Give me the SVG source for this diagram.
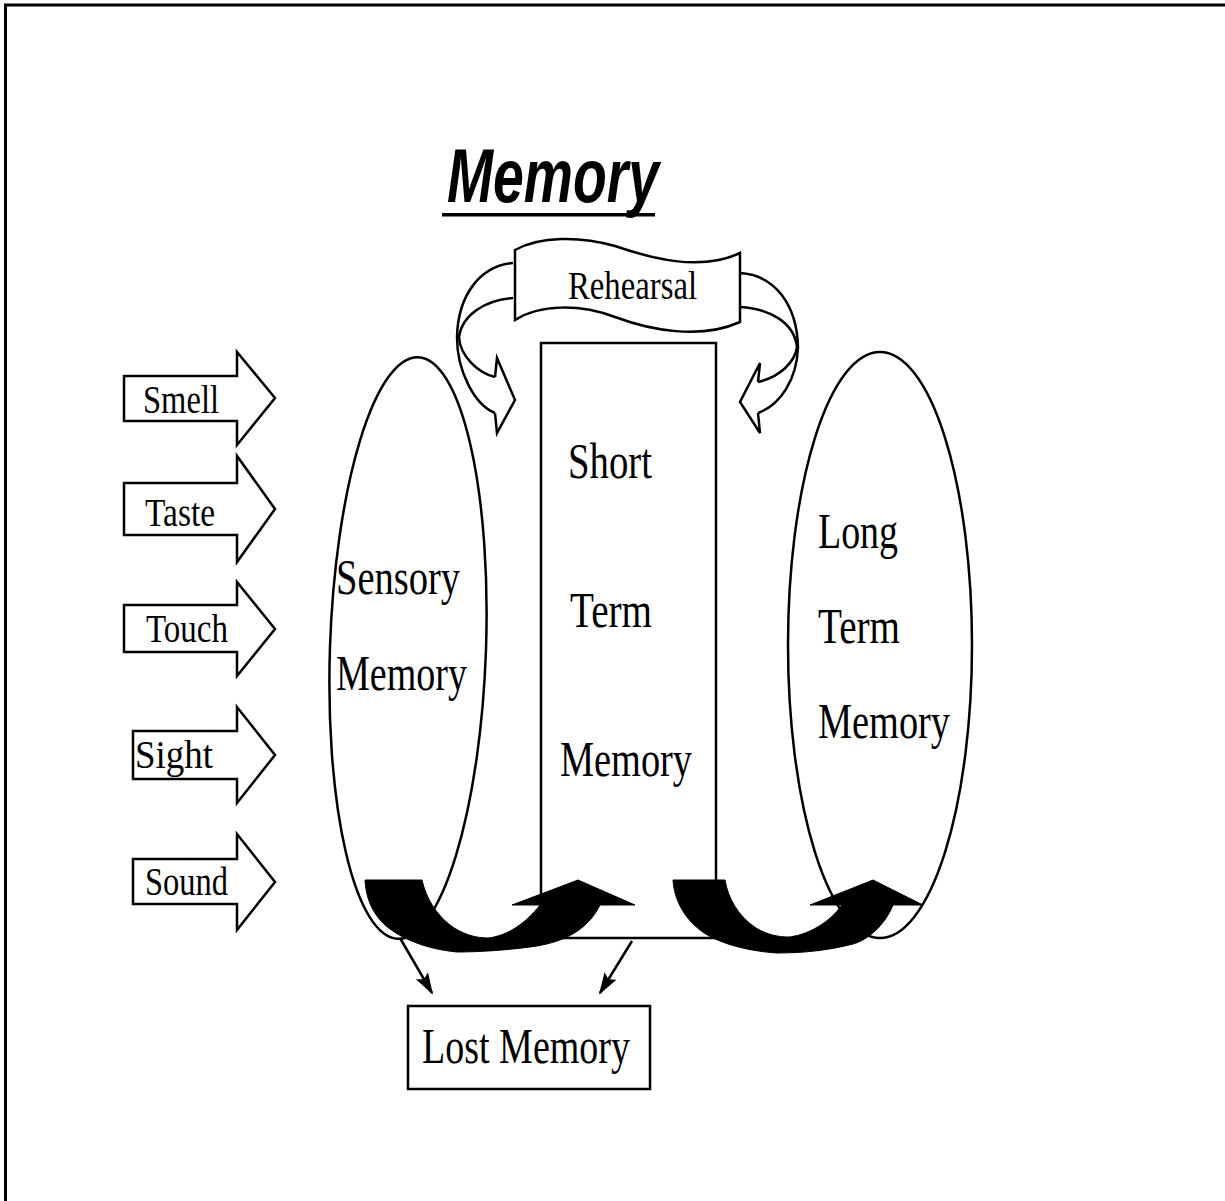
<svg xmlns="http://www.w3.org/2000/svg" width="1225" height="1201" viewBox="0 0 1225 1201">
<style>
.ln{fill:none;stroke:#000;stroke-width:2.5;stroke-linejoin:miter}
.sh{fill:#fff;stroke:#000;stroke-width:2.5;stroke-linejoin:miter}
.blk{fill:#000;stroke:#000;stroke-width:1}
.t{font-family:"Liberation Serif","Times New Roman",serif;fill:#000}
.big{font-size:51px}
.sm{font-size:41px}
.title{font-family:"Liberation Sans",Arial,sans-serif;font-weight:bold;font-style:italic;font-size:76px;fill:#000}
</style>
<defs>
<marker id="ah" markerUnits="userSpaceOnUse" markerWidth="22" markerHeight="14" refX="20" refY="7" orient="auto" style="overflow:visible">
<path d="M0,0 L22,7 L0,14 L4,7 Z" fill="#000"/>
</marker>
</defs>
<rect width="1225" height="1201" fill="#fff"/>
<path d="M5.5,1201 V5 H1225" fill="none" stroke="#000" stroke-width="3"/>

<g id="title">
<text class="title" x="447" y="202" textLength="212" lengthAdjust="spacingAndGlyphs">Memory</text>
<rect x="442" y="213" width="213" height="3.5" fill="#000"/>
</g>

<g id="sensory-memory">
<ellipse class="sh" cx="408" cy="648" rx="78" ry="291" transform="rotate(2 408 648)"/>
<text class="t big" x="336" y="594" textLength="124" lengthAdjust="spacingAndGlyphs">Sensory</text>
<text class="t big" x="336" y="690" textLength="131" lengthAdjust="spacingAndGlyphs">Memory</text>
</g>

<g id="long-term-memory">
<ellipse class="sh" cx="880" cy="645" rx="92" ry="293"/>
<text class="t big" x="818" y="548" textLength="80" lengthAdjust="spacingAndGlyphs">Long</text>
<text class="t big" x="818" y="643" textLength="82" lengthAdjust="spacingAndGlyphs">Term</text>
<text class="t big" x="818" y="738" textLength="132" lengthAdjust="spacingAndGlyphs">Memory</text>
</g>

<g id="short-term-memory">
<rect class="sh" x="541" y="343" width="175" height="595"/>
<text class="t big" x="568" y="478" textLength="84" lengthAdjust="spacingAndGlyphs">Short</text>
<text class="t big" x="570" y="627" textLength="82" lengthAdjust="spacingAndGlyphs">Term</text>
<text class="t big" x="560" y="776" textLength="132" lengthAdjust="spacingAndGlyphs">Memory</text>
</g>

<g id="lost-memory">
<rect class="sh" x="408" y="1006" width="242" height="83"/>
<text class="t big" x="422" y="1063" textLength="208" lengthAdjust="spacingAndGlyphs">Lost Memory</text>
</g>

<g id="rehearsal">
<path class="sh" d="M515,250 C540,236 580,236 615,246 C650,258 700,272 740,253 L740,322 C700,340 650,330 615,317 C580,304 540,304 515,320 Z"/>
<text class="t" x="568" y="299" font-size="40" textLength="129" lengthAdjust="spacingAndGlyphs">Rehearsal</text>
</g>

<g id="senses">
<g id="smell"><polygon class="sh" points="124,376 237,376 237,352 275,398 237,445 237,421 124,421"/>
<text class="t sm" x="143" y="413" textLength="76" lengthAdjust="spacingAndGlyphs">Smell</text></g>
<g id="taste"><polygon class="sh" points="124,483 237,483 237,456 275,509 237,562 237,535 124,535"/>
<text class="t sm" x="145" y="526" textLength="70" lengthAdjust="spacingAndGlyphs">Taste</text></g>
<g id="touch"><polygon class="sh" points="124,605 237,605 237,582 275,629 237,676 237,652 124,652"/>
<text class="t sm" x="146" y="642" textLength="82" lengthAdjust="spacingAndGlyphs">Touch</text></g>
<g id="sight"><polygon class="sh" points="133,731 237,731 237,707 275,755 237,803 237,779 133,779"/>
<text class="t sm" x="135" y="768" textLength="78" lengthAdjust="spacingAndGlyphs">Sight</text></g>
<g id="sound"><polygon class="sh" points="133,859 237,859 237,834 275,882 237,930 237,904 133,904"/>
<text class="t sm" x="145" y="895" textLength="83" lengthAdjust="spacingAndGlyphs">Sound</text></g>
</g>

<g id="connectors">
<!-- rehearsal left ribbon arrow -->
<path class="ln" d="M513,263 C480,266 458,295 457,337 C457,372 475,405 495,413"/>
<path class="ln" d="M513,298 C485,300 462,315 459,337 C460,356 478,373 495,377"/>
<path class="ln" d="M495,377 L497,358 L515,400 L497,433 L495,413"/>
<!-- rehearsal right ribbon arrow -->
<path class="ln" d="M740,273 C775,275 797,305 798,347 C797,380 780,405 758,413"/>
<path class="ln" d="M740,307 C770,309 794,322 797,347 C795,362 780,377 758,382"/>
<path class="ln" d="M758,382 L760,363 L740,402 L760,433 L758,413"/>
<!-- black curved arrows -->
<path class="blk" d="M365,880 L422,880 C426,898 436,914 450,925 C462,934 475,938 488,938 C508,936 527,922 540,905 L512,905 L578,880 L635,905 L600,905 C590,925 572,940 537,946 C510,950 480,952 457,952 C425,949 400,938 385,925 C372,913 366,898 365,880 Z"/>
<path class="blk" d="M673,880 L725,880 C728,898 738,916 756,928 C768,935 778,937 790,937 C810,934 830,922 842,905 L810,905 L873,880 L923,905 L893,905 C885,925 868,940 853,944 C830,950 805,953 777,953 C745,951 715,942 700,930 C683,917 674,898 673,880 Z"/>
<!-- lost memory arrows -->
<line class="ln" x1="400" y1="938" x2="432" y2="993" marker-end="url(#ah)"/>
<line class="ln" x1="632" y1="941" x2="600" y2="993" marker-end="url(#ah)"/>
</g>
</svg>
